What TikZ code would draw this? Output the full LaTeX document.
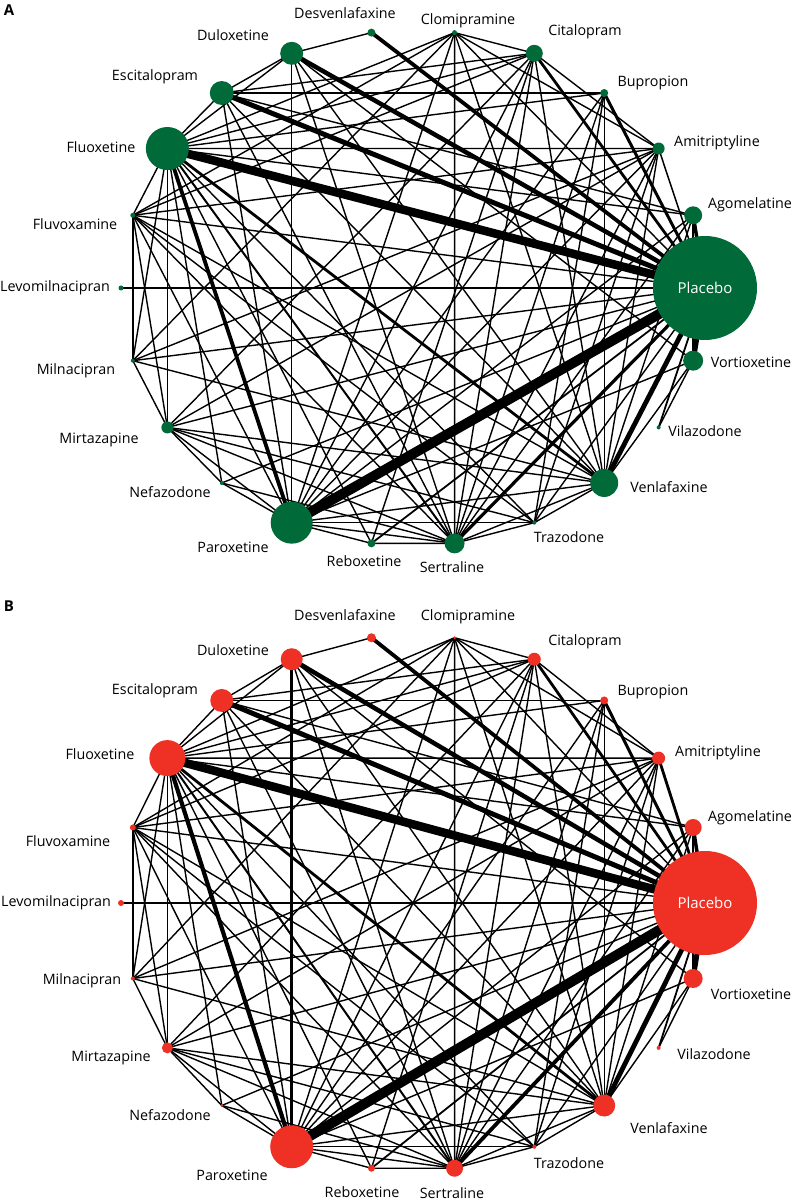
\documentclass[tikz,border=0pt]{standalone}
\usepackage{fontspec}
\setmainfont{Open Sans}
\usetikzlibrary{positioning}
\pgfdeclarelayer{edges}
\pgfsetlayers{edges,main}
\definecolor{nmagreen}{RGB}{0,107,56}
\definecolor{nmared}{RGB}{238,49,36}
\tikzset{
  drug/.style={circle,inner sep=0pt,draw=none},
  drugname/.style={font=\fontsize{14.3}{16}\selectfont,inner sep=0pt},
  paneltag/.style={font=\bfseries\fontsize{15}{16}\selectfont,inner sep=0pt},
}

\begin{document}
\begin{tikzpicture}[x=1pt,y=1pt]
\useasboundingbox (0,0) rectangle (794,1200);

% Panel A: efficacy
\node[paneltag] (A-tag) at (9,1190) {A};
\begin{scope}[shift={(413,912)}]
\foreach \n/\i/\d in {pla/0/104, ago/1/18, ami/2/12, bup/3/8, cit/4/17, clo/5/5, des/6/8,
  dul/7/23, esc/8/24, flx/9/43, flv/10/5, lev/11/5, mil/12/4, mir/13/12, nef/14/4,
  par/15/42, reb/16/8, ser/17/20, tra/18/4, ven/19/28, vil/20/4, vor/21/20}
  \node[drug,fill=nmagreen,minimum size=\d] (A-\n) at ({\i*360/22}:292 and 258) {};
\end{scope}
\node[drugname,text=white,font=\fontsize{15}{16}\selectfont] (A-pla-l) at (A-pla) {Placebo};
\foreach \n/\x/\y/\t in {ago/750/205/Agomelatine, ami/717/143/Amitriptyline,
  bup/653/83/Bupropion, cit/585/32/Citalopram, clo/468/21/Clomipramine,
  des/345/13/Desvenlafaxine, dul/233/35/Duloxetine, esc/155/77/Escitalopram,
  flx/101/147/Fluoxetine, flv/75/224/Fluvoxamine, lev/55/288/Levomilnacipran,
  mil/76/371/Milnacipran, mir/99/440/Mirtazapine, nef/170/492/Nefazodone,
  par/233/547/Paroxetine, reb/364/561/Reboxetine, ser/452/567/Sertraline,
  tra/569/537/Trazodone, ven/669/487/Venlafaxine, vil/705/431/Vilazodone,
  vor/751/362/Vortioxetine}
  \node[drugname] (A-\n-l) at (\x,{1200-\y}) {\t};

% Panel B: acceptability
\node[paneltag] (B-tag) at (9,594) {B};
\begin{scope}[shift={(413,297)}]
\foreach \n/\i/\d in {pla/0/104, ago/1/17, ami/2/13, bup/3/8, cit/4/13, clo/5/3, des/6/9,
  dul/7/22, esc/8/23, flx/9/36, flv/10/6, lev/11/6, mil/12/4, mir/13/11, nef/14/3,
  par/15/43, reb/16/7, ser/17/17, tra/18/4, ven/19/22, vil/20/4, vor/21/19}
  \node[drug,fill=nmared,minimum size=\d] (B-\n) at ({\i*360/22}:292 and 268) {};
\end{scope}
\node[drugname,text=white,font=\fontsize{15}{16}\selectfont] (B-pla-l) at (B-pla) {Placebo};
\foreach \n/\x/\y/\t in {ago/750/818/Agomelatine, ami/718/753/Amitriptyline,
  bup/653/692/Bupropion, cit/585/642/Citalopram, clo/468/617/Clomipramine,
  des/345/615/Desvenlafaxine, dul/233/650/Duloxetine, esc/155/691/Escitalopram,
  flx/100/754/Fluoxetine, flv/68/841/Fluvoxamine, lev/56/903/Levomilnacipran,
  mil/82/981/Milnacipran, mir/111/1058/Mirtazapine, nef/170/1115/Nefazodone,
  par/232/1175/Paroxetine, reb/362/1192/Reboxetine, ser/452/1193/Sertraline,
  tra/569/1163/Trazodone, ven/669/1128/Venlafaxine, vil/714/1054/Vilazodone,
  vor/751/994/Vortioxetine}
  \node[drugname] (B-\n-l) at (\x,{1200-\y}) {\t};

% Comparisons: first drug/second drug/width in A/width in B
\begin{pgfonlayer}{edges}
\foreach \u/\v/\wa/\wb in {
  pla/ago/3.5/3.5, pla/ami/1.5/2.8, pla/bup/3/3, pla/cit/2.8/2.8, pla/clo/1.4/1.4,
  pla/des/3.8/3.8, pla/dul/4.5/4.5, pla/esc/5/5, pla/flx/8.5/8.5, pla/flv/1.4/1.4,
  pla/lev/1.4/2.8, pla/mil/1.4/1.4, pla/mir/1.4/1.4, pla/nef/1.4/1.4, pla/par/10/10,
  pla/reb/1.8/1.8, pla/ser/3.2/3.8, pla/tra/1.4/1.4, pla/ven/4.8/4.8, pla/vil/1.8/1.8,
  pla/vor/5/5,
  flx/ami/1.4/1.4, flx/bup/1.4/1.4, flx/cit/1.4/1.4, flx/clo/1.4/1.4, flx/dul/1.4/1.4,
  flx/esc/1.4/1.4, flx/flv/1.4/1.4, flx/mil/1.4/1.4, flx/mir/1.4/1.4, flx/nef/1.4/1.4,
  flx/par/3.8/4.2, flx/reb/1.4/1.4, flx/ser/2/2, flx/tra/1.4/1.4, flx/ven/2.8/2.8,
  flx/ago/1.4/1.4,
  par/ami/1.4/1.4, par/bup/1.4/1.4, par/cit/1.4/1.4, par/clo/1.4/1.4, par/dul/1.5/3.2,
  par/esc/1.4/1.4, par/flv/1.4/1.4, par/mir/1.4/1.4, par/nef/1.4/1.4,
  par/reb/1.4/1.4, par/ser/1.4/1.4, par/tra/1.4/1.4, par/ven/1.4/1.4, par/ago/1.4/1.4,
  par/vor/1.4/1.4,
  ser/ami/1.4/1.4, ser/bup/1.4/1.4, ser/cit/1.4/1.4, ser/clo/1.4/1.4, ser/esc/1.4/1.4,
  ser/flv/1.4/1.4, ser/mir/1.4/1.4, ser/nef/1.4/1.4, ser/ven/1.4/1.4, ser/ago/1.4/1.4,
  ser/dul/1.4/1.4, ser/reb/1.4/1.4, ser/tra/1.4/1.4,
  ven/ago/1.4/1.4, ven/bup/1.4/1.4, ven/cit/1.4/1.4, ven/clo/1.4/1.4, ven/dul/1.4/1.4,
  ven/esc/1.4/1.4, ven/flv/1.4/1.4, ven/mir/1.4/1.4, ven/tra/1.4/1.4, ven/vor/1.4/1.4,
  ven/ami/1.4/1.4, ven/mil/1.4/1.4,
  esc/bup/1.4/1.4, esc/cit/1.4/1.4, esc/dul/1.4/1.4, esc/ago/1.4/1.4,
  cit/ami/1.4/1.4, cit/clo/1.4/1.4, cit/flv/1.4/1.4, cit/mir/1.4/1.4, cit/reb/1.4/1.4,
  dul/des/1.4/1.4, dul/vor/1.4/1.4,
  ami/clo/1.4/1.4, ami/flv/1.4/1.4, ami/mil/1.4/1.4, ami/mir/1.4/1.4, ami/tra/1.4/1.4,
  clo/flv/1.4/1.4, clo/mil/1.4/1.4, bup/tra/1.4/1.4, mir/tra/1.4/1.4, mir/nef/1.4/1.4,
  flv/mil/1.4/1.4, flv/mir/1.4/1.4, flv/tra/1.4/1.4, mil/mir/1.4/1.4,
  vil/vor/1.4/1.4, ago/vor/1.4/1.4}
{
  \draw[line width=\wa] (A-\u.center) -- (A-\v.center);
  \draw[line width=\wb] (B-\u.center) -- (B-\v.center);
}
\end{pgfonlayer}
\end{tikzpicture}
\end{document}
